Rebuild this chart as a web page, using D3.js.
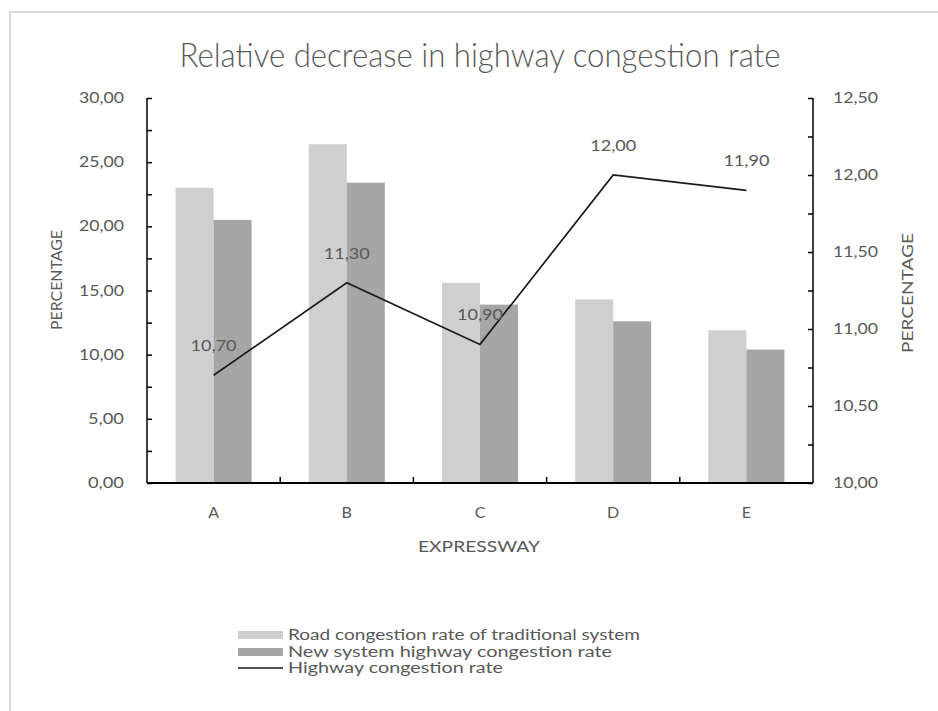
<!DOCTYPE html>
<html>
<head>
<meta charset="utf-8">
<script src="https://cdn.jsdelivr.net/npm/d3@7"></script>
<style>
  html, body { margin: 0; padding: 0; background: #fff; }
  svg text { font-family: Lato, "Open Sans", sans-serif; fill: #595959; }
</style>
</head>
<body>
<svg id="chart" width="938" height="711"></svg>
<script>
// Expressways and their congestion figures
const categories = ["A", "B", "C", "D", "E"];
const traditionalRate = [23.0, 26.4, 15.6, 14.3, 11.9];
const newSystemRate = [20.5, 23.4, 13.9, 12.6, 10.4];
const highwayRate = [10.7, 11.3, 10.9, 12.0, 11.9];

const leftTicks = [0, 5, 10, 15, 20, 25, 30];
const rightTicks = [10, 10.5, 11, 11.5, 12, 12.5];

const seriesNames = [
  "Road congestion rate of traditional system",
  "New system highway congestion rate",
  "Highway congestion rate"
];
const legendWidths = [352, 324, 215];
const titleText = "Relative decrease in highway congestion rate";

const colors = { light: "#d0cfd0", dark: "#a6a6a6", line: "#1a1a1a" };

const svg = d3.select("#chart");
const fmt = v => d3.format(".2f")(v).replace(".", ",");
// numeric labels are drawn in a wide face: about 9px per character
const numWidth = s => s.length * 9;

// frame around the chart area
svg.append("rect")
  .attr("x", 10).attr("y", 12)
  .attr("width", 940).attr("height", 720)
  .attr("fill", "none").attr("stroke", "#d9d9d9").attr("stroke-width", 2);

const plot = { left: 147, right: 813, top: 98, bottom: 483 };

const x = d3.scaleBand().domain(categories).range([plot.left, plot.right]);
const yL = d3.scaleLinear().domain([0, 30]).range([plot.bottom, plot.top]);
const yR = d3.scaleLinear().domain([10, 12.5]).range([plot.bottom, plot.top]);

// title, condensed to fit its box
svg.append("text")
  .attr("x", 480).attr("y", 67)
  .attr("text-anchor", "middle")
  .attr("font-size", 33)
  .attr("font-weight", 300)
  .attr("textLength", 601).attr("lengthAdjust", "spacingAndGlyphs")
  .text(titleText);

// bars
const barW = 38;
const g = svg.append("g");
categories.forEach((c, i) => {
  const cx = x(c) + x.bandwidth() / 2;
  g.append("rect")
    .attr("x", cx - barW).attr("y", yL(traditionalRate[i]))
    .attr("width", barW).attr("height", yL(0) - yL(traditionalRate[i]))
    .attr("fill", colors.light);
  g.append("rect")
    .attr("x", cx).attr("y", yL(newSystemRate[i]))
    .attr("width", barW).attr("height", yL(0) - yL(newSystemRate[i]))
    .attr("fill", colors.dark);
});

// left axis
const leftAxis = svg.append("g").attr("transform", `translate(${plot.left},0)`)
  .call(d3.axisLeft(yL).tickValues(d3.range(0, 30.01, 2.5)).tickSize(-5).tickFormat(""));
leftAxis.select(".domain").attr("d", `M-0,${plot.top}V${plot.bottom}`);
leftAxis.selectAll("line, path").attr("stroke", "#000").attr("stroke-width", 1.5);
svg.append("g").selectAll("text").data(leftTicks).join("text")
  .attr("x", plot.left - 23).attr("y", d => yL(d) + 5)
  .attr("text-anchor", "end").attr("font-size", 16)
  .attr("textLength", d => numWidth(fmt(d))).attr("lengthAdjust", "spacingAndGlyphs")
  .text(fmt);

// right axis
const rightAxis = svg.append("g").attr("transform", `translate(${plot.right},0)`)
  .call(d3.axisRight(yR).tickValues(d3.range(10, 12.501, 0.25)).tickSize(-5).tickFormat(""));
rightAxis.select(".domain").attr("d", `M0,${plot.top}V${plot.bottom}`);
rightAxis.selectAll("line, path").attr("stroke", "#000").attr("stroke-width", 1.5);
svg.append("g").selectAll("text").data(rightTicks).join("text")
  .attr("x", plot.right + 20).attr("y", d => yR(d) + 5)
  .attr("text-anchor", "start").attr("font-size", 16)
  .attr("textLength", d => numWidth(fmt(d))).attr("lengthAdjust", "spacingAndGlyphs")
  .text(fmt);

// bottom axis
const bottomAxis = svg.append("g").attr("transform", `translate(0,${plot.bottom})`)
  .call(d3.axisBottom(x).tickSize(0).tickFormat(""));
bottomAxis.select(".domain").attr("d", `M${plot.left},0H${plot.right}`)
  .attr("stroke", "#000").attr("stroke-width", 1.8);
svg.append("g").selectAll("line").data(categories.slice(1)).join("line")
  .attr("x1", d => x(d)).attr("x2", d => x(d))
  .attr("y1", plot.bottom).attr("y2", plot.bottom - 6)
  .attr("stroke", "#000").attr("stroke-width", 1.5);
svg.append("g").selectAll("text").data(categories).join("text")
  .attr("x", d => x(d) + x.bandwidth() / 2).attr("y", 518)
  .attr("text-anchor", "middle").attr("font-size", 16)
  .text(d => d);

// axis titles
svg.append("text").attr("x", 479).attr("y", 552)
  .attr("text-anchor", "middle").attr("font-size", 16)
  .attr("textLength", 122).attr("lengthAdjust", "spacingAndGlyphs")
  .text("EXPRESSWAY");
svg.append("text").attr("transform", "translate(62,280) rotate(-90)")
  .attr("text-anchor", "middle").attr("font-size", 16)
  .attr("textLength", 100).attr("lengthAdjust", "spacingAndGlyphs")
  .text("PERCENTAGE");
svg.append("text").attr("transform", "translate(913,293) rotate(-90)")
  .attr("text-anchor", "middle").attr("font-size", 16)
  .attr("textLength", 120).attr("lengthAdjust", "spacingAndGlyphs")
  .text("PERCENTAGE");

// line series on the secondary axis
const line = d3.line()
  .x((d, i) => x(categories[i]) + x.bandwidth() / 2)
  .y(d => yR(d));
svg.append("path").datum(highwayRate)
  .attr("d", line).attr("fill", "none")
  .attr("stroke", colors.line).attr("stroke-width", 1.7);

svg.append("g").selectAll("text").data(highwayRate).join("text")
  .attr("x", (d, i) => x(categories[i]) + x.bandwidth() / 2)
  .attr("y", d => yR(d) - 24)
  .attr("text-anchor", "middle").attr("font-size", 16)
  .attr("textLength", 46).attr("lengthAdjust", "spacingAndGlyphs")
  .text(fmt);

// legend
const legend = svg.append("g");
const rows = [635, 652, 668];
legend.append("rect").attr("x", 238).attr("y", rows[0] - 4).attr("width", 45).attr("height", 8).attr("fill", colors.light);
legend.append("rect").attr("x", 238).attr("y", rows[1] - 4).attr("width", 45).attr("height", 8).attr("fill", colors.dark);
legend.append("line").attr("x1", 238).attr("x2", 283).attr("y1", rows[2]).attr("y2", rows[2])
  .attr("stroke", colors.line).attr("stroke-width", 1.6);
legend.selectAll("text").data(seriesNames).join("text")
  .attr("x", 288).attr("y", (d, i) => rows[i] + 5)
  .attr("font-size", 14.5)
  .attr("textLength", (d, i) => legendWidths[i]).attr("lengthAdjust", "spacingAndGlyphs")
  .text(d => d);
</script>
</body>
</html>
